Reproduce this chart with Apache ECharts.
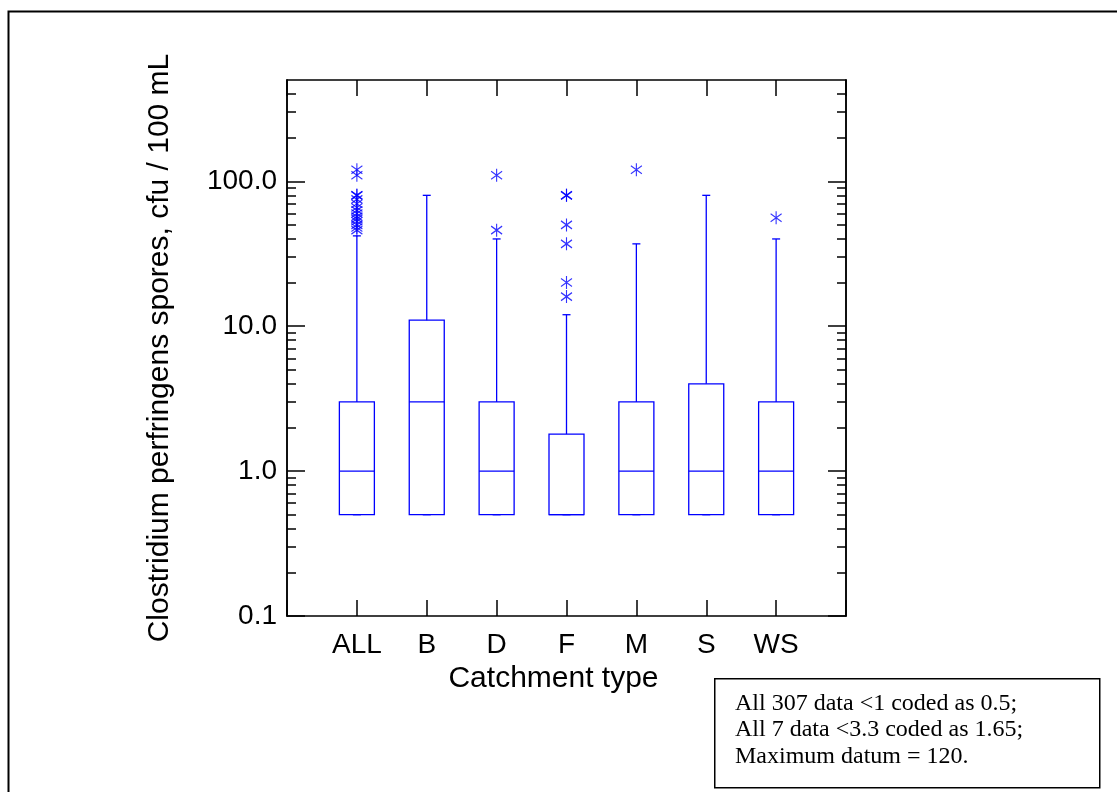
<!DOCTYPE html>
<html>
<head>
<meta charset="utf-8">
<title>Clostridium perfringens spores by catchment type</title>
<script src="https://cdn.jsdelivr.net/npm/echarts@6/dist/echarts.min.js"></script>
<style>
  html, body { margin: 0; padding: 0; background: #fff; }
  #main { width: 1117px; height: 792px; }
</style>
</head>
<body>
<div id="main"></div>
<script>
// categories (blank slots at both ends give the outer margin of the plot)
var categories = ['', 'ALL', 'B', 'D', 'F', 'M', 'S', 'WS', ' '];
var boxNames = ['ALL', 'B', 'D', 'F', 'M', 'S', 'WS'];

// box statistics, cfu / 100 mL
var whiskerLow  = [0.5, 0.5, 0.5, 0.5, 0.5, 0.5, 0.5];
var q1          = [0.5, 0.5, 0.5, 0.5, 0.5, 0.5, 0.5];
var median      = [1,   3,   1,   0.5, 1,   1,   1];
var q3          = [3,   11,  3,   1.8, 3,   4,   3];
var whiskerHigh = [42,  80,  40,  12,  37,  80,  40];

// outliers (asterisks)
var outlierCats = ['ALL', 'ALL', 'ALL', 'ALL', 'ALL', 'ALL', 'ALL', 'ALL', 'ALL', 'ALL', 'ALL', 'ALL', 'ALL', 'ALL', 'ALL',
                   'D', 'D', 'F', 'F', 'F', 'F', 'F', 'F', 'M', 'WS'];
var outlierVals = [120, 110, 80, 80, 75, 70, 66, 63, 60, 57, 55, 53, 50, 48, 46,
                   110, 46, 80, 80, 50, 37, 20, 16, 120, 56];

// y axis ticks
var majorTicks = [0.1, 1, 10, 100];
var minorTicks = [0.2, 0.3, 0.4, 0.5, 0.6, 0.7, 0.8, 0.9,
                  2, 3, 4, 5, 6, 7, 8, 9,
                  20, 30, 40, 50, 60, 70, 80, 90,
                  200, 300, 400];

var noteLines = ['All 307 data <1 coded as 0.5;', 'All 7 data <3.3 coded as 1.65;', 'Maximum datum = 120.'];

var BLUE = '#0000ff';
var FONT = 'Liberation Sans, Arial, sans-serif';
var boxWidth = 35;
var capWidth = 8;

var boxData = boxNames.map(function (n, i) {
  return [n, whiskerLow[i], q1[i], median[i], q3[i], whiskerHigh[i]];
});
var outlierData = outlierCats.map(function (c, i) {
  return [c, outlierVals[i]];
});

// box + whisker drawn through the axes
function renderBox(params, api) {
  var x = api.value(0);
  var lo = api.coord([x, api.value(1)]);
  var b1 = api.coord([x, api.value(2)]);
  var md = api.coord([x, api.value(3)]);
  var b3 = api.coord([x, api.value(4)]);
  var hi = api.coord([x, api.value(5)]);
  var hw = boxWidth / 2, cw = capWidth / 2;
  var st = { stroke: BLUE, fill: 'none', lineWidth: 1.3 };
  return {
    type: 'group',
    children: [
      { type: 'rect', shape: { x: b3[0] - hw, y: b3[1], width: boxWidth, height: b1[1] - b3[1] }, style: st },
      { type: 'line', shape: { x1: md[0] - hw, y1: md[1], x2: md[0] + hw, y2: md[1] }, style: st },
      { type: 'line', shape: { x1: hi[0], y1: hi[1], x2: b3[0], y2: b3[1] }, style: st },
      { type: 'line', shape: { x1: hi[0] - cw, y1: hi[1], x2: hi[0] + cw, y2: hi[1] }, style: st },
      { type: 'line', shape: { x1: lo[0], y1: lo[1], x2: b1[0], y2: b1[1] }, style: st },
      { type: 'line', shape: { x1: lo[0] - cw, y1: lo[1], x2: lo[0] + cw, y2: lo[1] }, style: st }
    ]
  };
}

function yAxisDef(position, ticks, len, withLabels) {
  return {
    type: 'log',
    logBase: 10,
    min: 0.1,
    max: 500,
    position: position,
    axisLine: { show: true, lineStyle: { color: '#000', width: 1.5 } },
    axisTick: { show: true, inside: true, length: len, customValues: ticks, lineStyle: { color: '#000', width: 1.5 } },
    axisLabel: withLabels ? {
      show: true, customValues: majorTicks, margin: 10,
      fontFamily: FONT, fontSize: 28, color: '#000',
      formatter: function (v) { return Number(v).toFixed(1); }
    } : { show: false },
    splitLine: { show: false },
    minorTick: { show: false }
  };
}

var yMain = yAxisDef('left', majorTicks, 18, true);
yMain.name = 'Clostridium perfringens spores, cfu / 100 mL';
yMain.nameLocation = 'middle';
yMain.nameGap = 112;
yMain.nameTextStyle = { fontFamily: FONT, fontSize: 30, color: '#000' };

var option = {
  backgroundColor: '#fff',
  animation: false,
  grid: { left: 287, right: 271, top: 80, bottom: 176 },
  xAxis: [
    {
      type: 'category',
      data: categories,
      boundaryGap: false,
      position: 'bottom',
      name: 'Catchment type',
      nameLocation: 'middle',
      nameGap: 42,
      nameTextStyle: { fontFamily: FONT, fontSize: 30, color: '#000', padding: [0, 26, 0, 0] },
      axisLine: { lineStyle: { color: '#000', width: 1.5 } },
      axisTick: { inside: true, length: 16, interval: 0, lineStyle: { color: '#000', width: 1.5 } },
      axisLabel: { interval: 0, margin: 15, fontFamily: FONT, fontSize: 28, color: '#000' },
      splitLine: { show: false }
    },
    {
      type: 'category',
      data: categories,
      boundaryGap: false,
      position: 'top',
      axisLine: { lineStyle: { color: '#000', width: 1.5 } },
      axisTick: { inside: true, length: 16, interval: 0, lineStyle: { color: '#000', width: 1.5 } },
      axisLabel: { show: false },
      splitLine: { show: false }
    }
  ],
  yAxis: [
    yMain,
    yAxisDef('left', minorTicks, 9, false),
    yAxisDef('right', majorTicks, 18, false),
    yAxisDef('right', minorTicks, 9, false)
  ],
  series: [
    {
      type: 'custom',
      name: 'box',
      xAxisIndex: 0,
      yAxisIndex: 0,
      renderItem: renderBox,
      encode: { x: 0, y: [1, 2, 3, 4, 5] },
      data: boxData,
      silent: true
    },
    {
      type: 'scatter',
      name: 'outliers',
      xAxisIndex: 0,
      yAxisIndex: 0,
      symbol: 'path://M5.5 0 L5.5 13 M0 2.5 L11 10.5 M0 10.5 L11 2.5',
      symbolSize: [11, 13],
      itemStyle: { color: 'none', borderColor: BLUE, borderWidth: 1.2 },
      data: outlierData,
      silent: true
    }
  ],
  graphic: [
    // outer frame
    { type: 'rect', left: 6, top: 9, shape: { width: 1130, height: 800 },
      style: { fill: 'none', stroke: '#000', lineWidth: 2 }, silent: true, z: 100 },
    // note box
    { type: 'rect', left: 714, top: 678, shape: { width: 385, height: 109 },
      style: { fill: '#fff', stroke: '#000', lineWidth: 1.5 }, silent: true, z: 100 },
    { type: 'text', left: 735, top: 690, silent: true, z: 101,
      style: { text: noteLines.join('\n'), fontFamily: 'Liberation Serif', fontSize: 24,
               fill: '#000', lineHeight: 26.5 } }
  ]
};

var chart = echarts.init(document.getElementById('main'));
chart.setOption(option);
</script>
</body>
</html>
